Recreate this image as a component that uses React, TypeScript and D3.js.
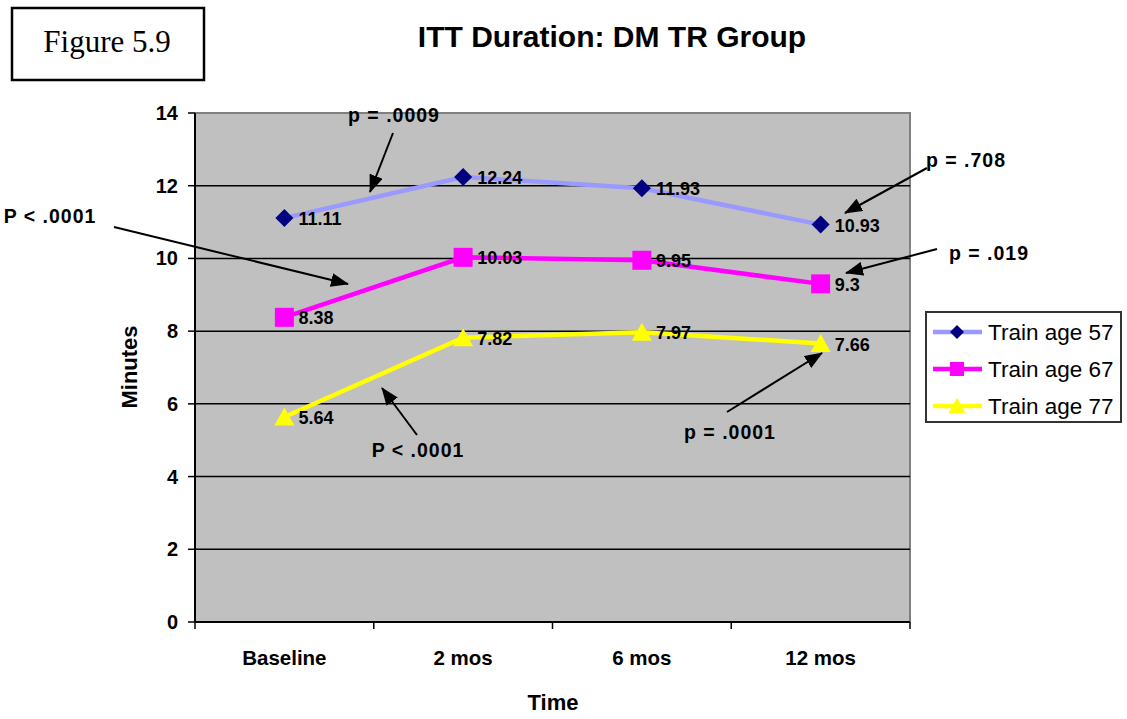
import React from "react";
import * as d3 from "d3";

const categories = ["Baseline", "2 mos", "6 mos", "12 mos"];
const seriesNames = ["Train age 57", "Train age 67", "Train age 77"];
const age57 = [11.11, 12.24, 11.93, 10.93];
const age67 = [8.38, 10.03, 9.95, 9.3];
const age77 = [5.64, 7.82, 7.97, 7.66];
const yTicks = [0, 2, 4, 6, 8, 10, 12, 14];
const valueLabels57 = ["11.11", "12.24", "11.93", "10.93"];
const valueLabels67 = ["8.38", "10.03", "9.95", "9.3"];
const valueLabels77 = ["5.64", "7.82", "7.97", "7.66"];

const annotations = [
  { text: "p = .0009", tx: 394, ty: 115, x1: 393, y1: 133, x2: 370, y2: 192 },
  { text: "P < .0001", tx: 50, ty: 216, x1: 114, y1: 227, x2: 348, y2: 284 },
  { text: "P < .0001", tx: 418, ty: 450, x1: 417, y1: 435, x2: 382, y2: 388 },
  { text: "p = .0001", tx: 730, ty: 432, x1: 727, y1: 412, x2: 822, y2: 353 },
  { text: "p = .708", tx: 966, ty: 160, x1: 927, y1: 168, x2: 845, y2: 213 },
  { text: "p = .019", tx: 989, ty: 253, x1: 937, y1: 249, x2: 846, y2: 273 },
];

const W = 1127;
const H = 719;
const plot = { left: 195, right: 910, top: 113, bottom: 622 };
const FONT = "Arial, 'Liberation Sans', sans-serif";

type Shape = "diamond" | "square" | "triangle";

function Marker({ shape, x, y, s, fill }: { shape: Shape; x: number; y: number; s: number; fill: string }) {
  if (shape === "diamond") {
    const h = s / 2;
    return <path d={`M${x},${y - h}L${x + h},${y}L${x},${y + h}L${x - h},${y}Z`} fill={fill} />;
  }
  if (shape === "square") {
    return <rect x={x - s / 2} y={y - s / 2} width={s} height={s} fill={fill} />;
  }
  const h = s * 0.85;
  return <path d={`M${x},${y - h / 2 - 1}L${x + s / 2},${y + h / 2}L${x - s / 2},${y + h / 2}Z`} fill={fill} />;
}

export default function App() {
  const x = d3.scaleBand<string>().domain(categories).range([plot.left, plot.right]).padding(0);
  const y = d3.scaleLinear().domain([0, 14]).range([plot.bottom, plot.top]);
  const cx = (c: string) => (x(c) as number) + x.bandwidth() / 2;

  const series = [
    { name: seriesNames[0], values: age57, labels: valueLabels57, line: "#9999ff", fill: "#000080", shape: "diamond" as Shape, size: 18, lsize: 14 },
    { name: seriesNames[1], values: age67, labels: valueLabels67, line: "#ff00ff", fill: "#ff00ff", shape: "square" as Shape, size: 19, lsize: 14 },
    { name: seriesNames[2], values: age77, labels: valueLabels77, line: "#ffff00", fill: "#ffff00", shape: "triangle" as Shape, size: 20, lsize: 17 },
  ];

  const lineGen = d3
    .line<number>()
    .x((_, i) => cx(categories[i]))
    .y((d) => y(d));

  const boundaries = [...categories.map((c) => x(c) as number), plot.right];

  return (
    <div style={{ position: "absolute", left: 0, top: 0 }}>
      <svg width={W} height={H} style={{ display: "block", background: "#fff" }}>
        <defs>
          <marker id="arr" markerUnits="userSpaceOnUse" markerWidth={18} markerHeight={14} refX={17} refY={7} orient="auto">
            <path d="M0,0L18,7L0,14Z" fill="#000" />
          </marker>
        </defs>

        {/* Figure box */}
        <rect x={12} y={8} width={192} height={72} fill="#fff" stroke="#000" strokeWidth={2.5} />
        <text x={107} y={52} textAnchor="middle" fontFamily="'Times New Roman', 'Liberation Serif', serif" fontSize={31} fill="#000">
          Figure 5.9
        </text>

        {/* Title */}
        <text x={612} y={47} textAnchor="middle" fontFamily={FONT} fontWeight="bold" fontSize={30} fill="#000">
          ITT Duration: DM TR Group
        </text>

        {/* Plot area */}
        <rect x={plot.left} y={plot.top} width={plot.right - plot.left} height={plot.bottom - plot.top} fill="#c0c0c0" stroke="#808080" strokeWidth={2} />
        {yTicks.slice(1, -1).map((t) => (
          <line key={t} x1={plot.left} x2={plot.right} y1={y(t)} y2={y(t)} stroke="#000" strokeWidth={1.5} />
        ))}
        {/* axes */}
        <line x1={plot.left} x2={plot.left} y1={plot.top} y2={plot.bottom} stroke="#000" strokeWidth={2} />
        <line x1={plot.left} x2={plot.right} y1={plot.bottom} y2={plot.bottom} stroke="#000" strokeWidth={2} />
        {yTicks.map((t) => (
          <g key={t}>
            <line x1={plot.left - 7} x2={plot.left} y1={y(t)} y2={y(t)} stroke="#000" strokeWidth={1.5} />
            <text x={178} y={y(t) + 7} textAnchor="end" fontFamily={FONT} fontWeight="bold" fontSize={20} fill="#000">
              {t}
            </text>
          </g>
        ))}
        {boundaries.map((b, i) => (
          <line key={i} x1={b} x2={b} y1={plot.bottom} y2={plot.bottom + 7} stroke="#000" strokeWidth={1.5} />
        ))}
        {categories.map((c) => (
          <text key={c} x={cx(c)} y={665} textAnchor="middle" fontFamily={FONT} fontWeight="bold" fontSize={20.5} fill="#000">
            {c}
          </text>
        ))}

        {/* axis titles */}
        <text x={553} y={710} textAnchor="middle" fontFamily={FONT} fontWeight="bold" fontSize={22} fill="#000">
          Time
        </text>
        <text transform="translate(137,367) rotate(-90)" textAnchor="middle" fontFamily={FONT} fontWeight="bold" fontSize={22} fill="#000">
          Minutes
        </text>

        {/* series */}
        {series.map((s) => (
          <g key={s.name}>
            <path d={lineGen(s.values) || ""} fill="none" stroke={s.line} strokeWidth={4.5} />
            {s.values.map((v, i) => (
              <Marker key={i} shape={s.shape} x={cx(categories[i])} y={y(v)} s={s.size} fill={s.fill} />
            ))}
            {s.values.map((v, i) => (
              <text key={"l" + i} x={cx(categories[i]) + 14} y={y(v) + 7} fontFamily={FONT} fontWeight="bold" fontSize={18} fill="#000">
                {s.labels[i]}
              </text>
            ))}
          </g>
        ))}

        {/* annotations */}
        {annotations.map((a, i) => (
          <g key={i}>
            <line x1={a.x1} y1={a.y1} x2={a.x2} y2={a.y2} stroke="#000" strokeWidth={2} markerEnd="url(#arr)" />
            <text x={a.tx} y={a.ty + 7} textAnchor="middle" fontFamily={FONT} fontWeight="bold" fontSize={19.5} letterSpacing={1} fill="#000">
              {a.text}
            </text>
          </g>
        ))}

        {/* legend */}
        <rect x={926} y={312} width={195} height={110} fill="#fff" stroke="#333" strokeWidth={2} />
        {series.map((s, i) => {
          const ly = 332 + i * 37;
          return (
            <g key={s.name}>
              <line x1={933} x2={982} y1={ly} y2={ly} stroke={s.line} strokeWidth={4.5} />
              <Marker shape={s.shape} x={957} y={ly} s={s.lsize} fill={s.fill} />
              <text x={988} y={ly + 8} fontFamily={FONT} fontSize={22.5} fill="#000">
                {s.name}
              </text>
            </g>
          );
        })}
      </svg>
    </div>
  );
}
